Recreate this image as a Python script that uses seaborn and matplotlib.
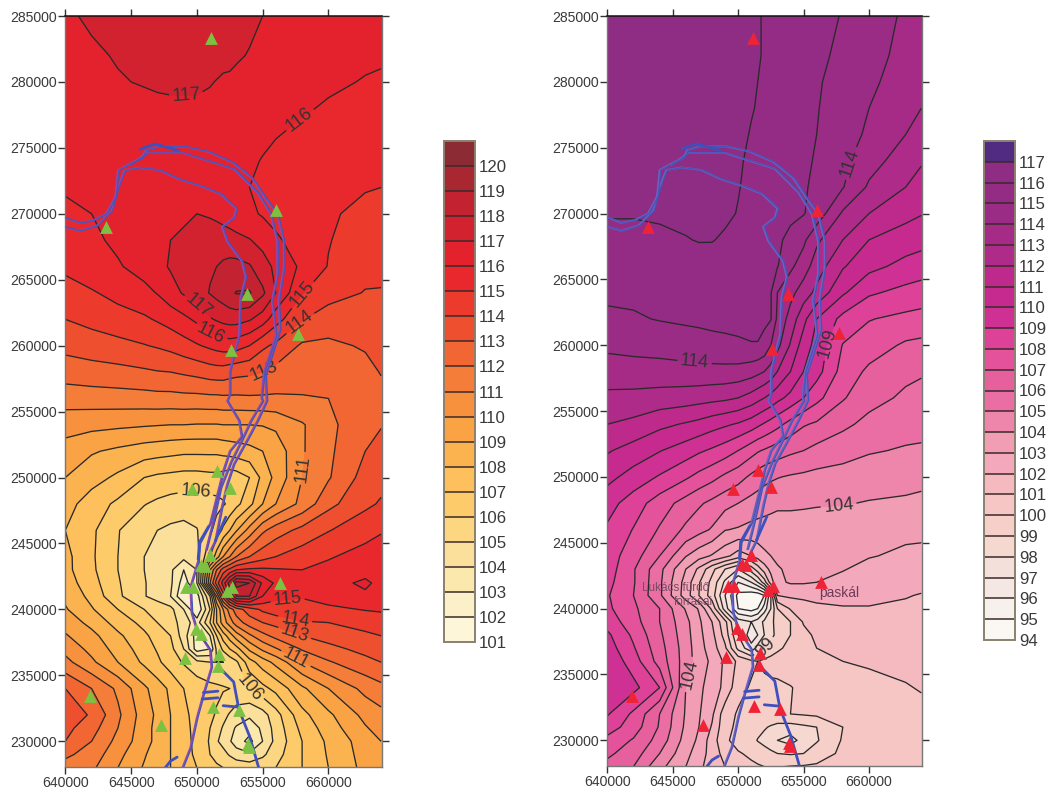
import numpy as np
import seaborn as sns
import matplotlib
matplotlib.use("Agg")
import matplotlib.pyplot as plt

# ---------------------- Grid ----------------------
x_nodes = [640000, 642000, 644000, 646000, 647000, 648000, 649000, 650000, 651000, 651500,
           652000, 652500, 653000, 654000, 655000, 656000, 658000, 660000, 662800, 664000]
y_nodes = [285000, 282000, 280000, 278000, 276000, 274000, 272000, 270000, 268000, 266000, 264000, 262000, 260000,
           258000, 256000, 254000, 252000, 250000, 248000, 246000, 244000, 243000, 242000,
           241000, 240000, 239000, 238000, 237000, 236000, 234000, 232000, 231000, 230000, 229000, 228000]

z_left = [
    [116.9,117.1,117.3,117.5,117.6,117.6,117.6,117.6,117.5,117.5,117.4,117.4,117.3,117.2,117.0,116.8,116.6,116.5,116.35,116.3],
    [116.7,116.9,117.05,117.25,117.3,117.35,117.4,117.4,117.35,117.3,117.2,117.15,117.1,116.95,116.8,116.7,116.5,116.35,116.15,116.1],
    [116.5,116.7,116.95,117.05,117.1,117.15,117.15,117.15,117.05,116.97,116.9,116.9,116.8,116.7,116.6,116.5,116.3,116.15,115.95,115.9],
    [116.35,116.5,116.7,116.8,116.85,116.85,116.85,116.85,116.8,116.75,116.7,116.65,116.6,116.5,116.35,116.25,116.1,115.9,115.65,115.6],
    [116.3,116.4,116.5,116.6,116.6,116.6,116.6,116.6,116.5,116.5,116.5,116.4,116.4,116.3,116.2,116.05,115.8,115.6,115.45,115.4],
    [116.25,116.3,116.4,116.5,116.5,116.5,116.5,116.5,116.4,116.4,116.4,116.3,116.3,116.15,115.95,115.75,115.5,115.4,115.25,115.2],
    [116.1,116.2,116.3,116.4,116.4,116.4,116.4,116.4,116.3,116.3,116.3,116.2,116.2,116.0,115.8,115.6,115.3,115.2,115.05,115.0],
    [115.8,116.0,116.15,116.3,116.4,116.6,116.8,117.0,116.9,116.8,116.7,116.5,116.3,116.2,115.9,115.6,115.3,115.1,114.8,114.7],
    [115.4,115.8,116.2,116.5,116.7,117.0,117.2,117.4,117.5,117.5,117.4,117.4,117.3,117.05,116.7,116.2,115.4,115.05,114.5,114.4],
    [115.2,115.6,115.9,116.4,116.7,117.1,117.4,117.6,117.9,118.0,118.2,118.3,118.3,118.1,117.4,116.8,115.8,114.95,114.3,114.2],
    [114.6,114.9,115.3,115.7,116.05,116.6,117.1,117.6,118.05,118.3,118.5,118.8,119.05,119.1,118.2,117.0,115.05,114.4,113.95,113.95],
    [114.0,114.3,114.6,114.85,115.1,115.4,115.75,116.2,116.9,117.1,117.3,117.4,117.4,117.1,116.5,115.4,114.05,113.5,113.6,113.65],
    [113.3,113.5,113.7,113.95,114.1,114.3,114.6,114.9,115.2,115.35,115.45,115.5,115.4,115.0,114.2,113.8,112.85,112.8,113.1,113.3],
    [112.45,112.6,112.7,112.85,112.95,113.0,113.15,113.3,113.5,113.55,113.55,113.4,113.3,113.2,113.0,112.7,112.3,112.2,112.7,113.05],
    [111.45,111.5,111.55,111.6,111.65,111.65,111.7,111.7,111.75,111.75,111.8,111.8,111.8,111.85,111.85,111.85,111.95,112.0,112.5,112.7],
    [110.4,110.3,110.2,110.1,110.05,110.0,110.0,109.95,109.95,109.95,110.0,110.0,110.0,110.0,110.05,110.2,110.9,111.75,112.7,112.95],
    [109.6,109.1,108.8,108.5,108.4,108.3,108.2,108.2,108.2,108.2,108.3,108.4,108.5,108.7,109.0,109.4,110.9,111.8,113.0,113.3],
    [109.0,108.4,107.8,107.0,106.8,106.7,106.6,106.6,106.7,106.7,106.6,106.4,106.5,107.0,108.3,109.3,111.0,111.9,113.4,113.7],
    [108.4,107.5,106.8,106.05,105.8,105.6,105.5,105.5,105.6,105.7,105.9,106.2,106.7,107.7,109.0,110.0,111.3,112.7,113.8,114.1],
    [108.0,107.2,106.05,105.3,105.0,104.8,104.7,104.95,105.8,106.4,107.2,108.0,108.9,110.4,111.8,112.5,113.3,113.95,114.6,114.9],
    [108.3,107.15,106.0,105.0,104.7,104.5,104.3,104.6,107.0,108.5,110.0,111.0,112.0,113.0,113.6,114.0,114.5,114.9,115.4,115.6],
    [108.3,107.2,106.0,105.0,104.7,104.2,103.0,104.0,110.0,112.0,113.5,114.3,115.0,115.2,115.2,115.1,115.0,115.3,115.6,115.5],
    [108.5,107.4,106.1,105.05,104.7,104.2,102.5,104.0,111.0,113.5,115.5,117.5,119.5,119.0,116.8,115.8,115.4,115.6,116.2,115.7],
    [108.8,107.7,106.2,105.05,104.7,104.0,102.0,102.5,106.0,110.0,113.5,116.0,118.0,118.0,116.0,115.2,115.05,115.4,115.8,115.6],
    [109.1,108.1,107.0,106.0,105.5,105.3,104.0,102.0,105.0,108.0,110.0,111.5,112.5,113.5,114.2,114.6,114.75,114.8,115.05,115.1],
    [109.6,108.7,107.6,106.7,106.0,105.5,104.5,103.5,106.0,108.0,109.5,110.5,111.5,112.5,113.0,113.3,113.9,114.0,114.4,114.6],
    [110.1,109.3,108.2,107.2,106.6,106.0,104.5,102.5,104.0,106.0,107.5,108.5,109.5,110.8,111.7,112.3,113.0,113.4,113.8,114.0],
    [110.7,109.7,108.6,107.5,106.9,106.3,105.0,102.5,103.0,105.2,106.2,107.0,107.6,109.2,110.2,110.9,112.1,112.7,113.3,113.5],
    [111.3,110.2,109.0,107.8,107.2,106.5,105.9,105.3,105.0,105.0,105.0,105.3,105.8,107.6,108.5,109.3,111.0,111.9,112.7,113.0],
    [113.0,112.0,110.8,109.2,108.5,107.8,107.0,106.6,106.3,106.2,106.1,106.0,105.85,106.0,106.7,107.3,108.8,110.0,111.3,111.7],
    [113.5,112.9,111.2,109.5,108.8,108.0,107.2,106.7,106.2,105.9,105.3,104.9,104.5,104.2,104.6,105.6,107.7,108.8,110.3,110.7],
    [113.3,112.4,111.0,109.4,108.7,108.0,107.3,106.7,106.0,105.4,104.9,104.3,103.9,103.4,104.2,105.4,107.3,108.5,109.9,110.4],
    [113.0,112.0,110.7,109.4,108.7,108.0,107.4,106.7,105.9,105.1,104.7,104.1,103.5,102.7,104.0,105.3,107.0,108.2,109.5,110.0],
    [112.2,111.6,110.3,109.1,108.5,108.0,107.4,106.8,106.0,105.6,105.3,104.9,104.5,104.2,104.8,105.6,107.0,108.1,109.4,109.9],
    [111.6,111.2,110.0,108.9,108.4,108.0,107.5,107.0,106.4,106.2,106.0,105.8,105.7,105.6,105.7,106.0,107.0,108.0,109.3,109.8],
]

z_right = [
    [116.5,116.5,116.5,116.5,116.5,116.5,116.4,116.3,116.15,116.05,115.95,115.85,115.75,115.6,115.45,115.3,114.95,114.5,113.85,113.6],
    [116.55,116.55,116.55,116.55,116.5,116.5,116.4,116.3,116.1,116.05,115.95,115.85,115.75,115.55,115.4,115.2,114.8,114.3,113.75,113.45],
    [116.6,116.6,116.6,116.6,116.5,116.5,116.4,116.3,116.1,116.0,115.9,115.8,115.7,115.5,115.3,115.1,114.65,114.15,113.65,113.35],
    [116.6,116.6,116.6,116.55,116.5,116.45,116.35,116.25,116.05,115.95,115.85,115.75,115.65,115.45,115.25,115.05,114.55,114.0,113.3,113.0],
    [116.6,116.6,116.6,116.5,116.5,116.4,116.3,116.2,115.95,115.85,115.75,115.65,115.55,115.35,115.15,115.0,114.4,113.85,113.0,112.6],
    [116.55,116.55,116.55,116.5,116.45,116.35,116.25,116.1,115.85,115.75,115.65,115.55,115.45,115.25,115.1,114.95,114.25,113.4,112.5,112.1],
    [116.5,116.5,116.5,116.5,116.4,116.3,116.2,116.05,115.75,115.7,115.6,115.5,115.4,115.2,115.05,114.9,114.05,112.85,112.0,111.6],
    [116.05,116.05,116.1,116.25,116.3,116.3,116.2,115.95,115.8,115.7,115.6,115.5,115.4,115.25,115.05,114.6,112.85,112.0,111.3,111.05],
    [115.8,115.8,115.85,115.95,116.05,116.05,115.85,115.7,115.55,115.5,115.4,115.3,115.2,114.7,114.2,113.2,112.0,111.0,110.5,110.35],
    [115.5,115.5,115.55,115.55,115.55,115.5,115.5,115.45,115.35,115.3,115.25,115.2,115.05,114.2,113.5,112.5,111.1,110.3,109.7,109.5],
    [115.2,115.2,115.25,115.3,115.3,115.3,115.3,115.3,115.25,115.2,115.15,115.05,114.0,113.3,112.5,111.75,110.15,109.15,108.7,108.55],
    [114.8,114.9,115.05,115.15,115.2,115.25,115.3,115.3,115.3,115.3,115.2,115.05,113.8,112.6,111.3,110.0,108.7,108.05,107.75,107.65],
    [114.2,114.3,114.4,114.55,114.6,114.7,114.75,114.85,114.95,114.95,114.7,114.0,113.3,111.9,110.5,109.65,107.95,107.5,106.85,106.75],
    [113.55,113.6,113.6,113.65,113.7,113.7,113.7,113.65,113.45,113.25,113.0,112.6,112.0,111.0,110.0,109.4,107.6,106.8,106.2,106.1],
    [112.75,112.7,112.6,112.5,112.4,112.3,112.2,112.0,111.6,111.3,111.0,110.7,110.3,109.7,109.0,108.3,107.1,106.3,105.85,105.7],
    [112.0,111.75,111.25,110.9,110.7,110.4,110.15,109.9,109.5,109.2,108.9,108.6,108.3,107.65,107.1,106.85,106.2,105.75,105.4,105.35],
    [111.1,110.6,110.05,109.5,109.15,108.85,108.5,108.0,107.4,107.1,106.9,106.7,106.5,106.2,106.0,105.7,105.45,105.1,104.9,104.85],
    [110.3,109.6,108.9,108.15,107.7,107.3,106.8,106.4,105.8,105.55,105.3,105.15,105.05,104.9,104.8,104.7,104.55,104.4,104.35,104.3],
    [109.4,108.5,107.5,106.6,106.15,105.75,105.35,105.0,104.65,104.5,104.4,104.3,104.2,104.2,104.15,104.1,104.05,103.95,103.85,103.75],
    [108.85,107.95,106.9,105.8,105.35,104.9,104.05,103.9,103.7,103.65,103.6,103.55,103.5,103.5,103.5,103.45,103.35,103.25,103.2,103.25],
    [108.5,107.45,106.0,104.05,103.4,102.9,102.3,101.5,102.0,102.4,102.8,103.0,103.2,103.35,103.35,103.3,103.2,103.05,102.85,102.75],
    [108.5,107.1,105.3,103.0,101.8,100.3,99.0,98.0,99.5,100.5,101.5,102.3,102.9,103.2,103.2,103.25,103.05,102.75,102.5,102.45],
    [108.3,107.1,105.2,102.6,101.1,99.7,97.8,96.0,97.0,98.0,99.5,101.5,102.8,103.1,103.1,103.0,102.75,102.5,102.3,102.25],
    [108.1,107.0,105.2,102.5,101.0,99.5,97.0,94.7,94.3,94.3,95.0,98.0,102.0,102.2,102.2,102.2,102.2,102.2,102.05,101.95],
    [108.2,107.2,106.0,103.9,102.9,100.8,97.5,95.0,94.6,95.0,96.5,98.0,100.0,101.1,101.6,101.85,101.95,101.95,101.85,101.8],
    [108.6,107.4,106.0,104.3,103.2,102.0,100.3,97.5,97.0,97.5,98.2,98.8,99.3,100.0,101.1,101.45,101.7,101.75,101.7,101.65],
    [109.2,107.8,106.2,104.4,103.3,102.3,100.6,98.0,96.5,97.0,98.0,98.7,99.3,100.0,100.7,101.2,101.5,101.55,101.5,101.45],
    [109.5,108.1,106.4,104.5,103.4,102.5,101.2,98.7,97.3,98.4,99.0,99.4,99.8,100.3,100.8,101.0,101.3,101.4,101.4,101.35],
    [109.8,108.5,106.6,104.5,103.5,102.8,101.8,100.8,100.2,100.0,100.2,100.4,100.5,100.6,100.7,100.75,101.0,101.1,101.2,101.25],
    [109.9,109.3,108.0,104.0,103.3,102.4,101.8,100.3,99.9,99.8,99.75,99.75,99.75,99.95,100.25,100.4,100.6,100.75,100.95,101.05],
    [109.1,107.8,106.0,103.9,103.1,102.2,100.4,99.9,99.7,99.65,99.65,99.7,99.75,100.0,100.1,100.2,100.4,100.55,100.7,100.8],
    [108.5,107.5,105.9,103.8,103.0,101.9,100.3,99.8,99.5,99.3,99.1,98.9,98.7,98.6,98.8,99.0,100.0,100.4,100.6,100.7],
    [107.7,106.9,105.6,103.6,102.8,101.5,100.2,99.6,99.3,98.95,98.7,98.4,98.0,97.6,98.4,98.9,100.1,100.3,100.5,100.6],
    [107.2,106.5,105.0,103.3,102.5,101.6,100.6,100.1,99.8,99.6,99.4,99.2,99.0,98.9,99.0,99.5,100.2,100.3,100.45,100.5],
    [106.7,106.0,104.3,103.0,102.2,101.6,101.0,100.5,100.2,100.1,100.0,99.9,99.95,100.05,100.1,100.15,100.25,100.3,100.4,100.4],
]

# contour levels and band colours, lowest band first
levels_left = list(range(101, 122))
levels_right = list(range(94, 119))
colors_left = ["#fdf6d8", "#fbf0c8", "#fbe8ad", "#fbe09b", "#fcd680", "#fdcb69", "#fdc05c", "#fbb350",
               "#f9a344", "#f7913e", "#f47e39", "#f26633", "#ee502f", "#ec3a2d", "#e8282d", "#e3222d",
               "#d2222f", "#c32330", "#a92730", "#8c2b34"]
colors_right = ["#fbf7f3", "#f7f0ec", "#f5e8e4", "#f4e0da", "#f5d8d0", "#f6d0c8", "#f6c6c4", "#f5bac0",
                "#f3a9bb", "#f19db4", "#ee86ab", "#ea6ea3", "#e6609e", "#e3529b", "#de4198", "#cf3093",
                "#c62a8e", "#bd2a8c", "#af2b8a", "#a52b87", "#9a2c86", "#942c85", "#8f2c84", "#512a82"]

# stations
station_x = [651100, 643100, 656000, 653800, 657700, 652600, 651500, 649600, 652500, 651000, 650600,
             650300, 649200, 649700, 652700, 652300, 656300, 649900, 650300, 651700, 651600, 649100,
             641900, 647300, 651200, 653200, 654000, 653900]
station_y = [283300, 269000, 270300, 263900, 260900, 259700, 250500, 249100, 249200, 244100, 243300,
             243400, 241700, 241700, 241700, 241400, 242000, 238500, 238100, 236600, 235700, 236300,
             233400, 231200, 232600, 232400, 229600, 229800]

# river banks
bank_west_x = [640000, 641100, 642400, 643500, 644000, 644500, 645700, 647200, 648700, 650300, 651800, 653000,
               652800, 651900, 652300, 653400, 653700, 653300, 653200, 652800, 652500, 652500, 652300, 653200,
               653400, 652500, 652000, 651500, 651000, 650200, 650100, 649500, 649600, 650000, 651000, 651100,
               650500, 650000, 649500, 648900]
bank_west_y = [269000, 268700, 269100, 270200, 272000, 273300, 273500, 273300, 272600, 272100, 271500, 270400,
               269700, 269000, 267900, 266400, 265200, 263600, 260800, 259300, 258000, 256300, 255800, 254300,
               253100, 252000, 250500, 248500, 246500, 245000, 243700, 241700, 239700, 238400, 236900, 235600,
               233600, 231800, 229500, 228000]
bank_east_x = [640000, 641100, 642100, 643100, 643800, 644000, 644900, 645800, 646100, 647100, 649100, 650900,
               652700, 654200, 655200, 656100, 656600, 656600, 656200, 656300, 655700, 655200, 655300, 654600,
               653800, 652800, 652300, 651900, 651400, 650900]
bank_east_y = [269700, 269300, 269500, 270000, 271300, 273300, 273800, 274200, 274800, 275100, 275100, 274700,
               273900, 272700, 271200, 270000, 267900, 265900, 263400, 261200, 259300, 257800, 255800, 254300,
               252800, 251000, 249500, 247800, 245200, 244200]
bank_mid_x = [644900, 646200, 649000, 652800, 654600, 655600, 656100, 656100, 655700, 656000, 655100, 654900,
              655000, 654100, 653400, 652600, 651800, 651200, 650700]
bank_mid_y = [273700, 274600, 274600, 273400, 271600, 270000, 267900, 265400, 263400, 260800, 258000, 256000,
              255800, 254300, 252800, 251200, 249200, 246500, 244500]
south_x = [651600, 652800, 653200, 654000, 654700]
south_y = [235700, 234500, 232400, 230400, 228000]
stub1_x = [650500, 651600]
stub1_y = [233700, 233800]
stub2_x = [650400, 651600]
stub2_y = [233200, 233300]
stub3_x = [652000, 653100]
stub3_y = [232700, 232600]
stub4_x = [647600, 648000, 648500]
stub4_y = [228000, 228500, 228800]
stub5_x = [650100, 650200, 650900]
stub5_y = [243800, 245100, 246300]
stub6_x = [651400, 652200]
stub6_y = [245200, 247000]
stub7_x = [645700, 646800, 648600]
stub7_y = [274900, 275300, 274800]
river_thin = [(bank_west_x, bank_west_y), (bank_east_x, bank_east_y), (bank_mid_x, bank_mid_y)]
river_thick = [(south_x, south_y), (stub1_x, stub1_y), (stub2_x, stub2_y), (stub3_x, stub3_y),
               (stub4_x, stub4_y), (stub5_x, stub5_y), (stub6_x, stub6_y), (stub7_x, stub7_y)]

# contour labels
label_pos_left = [(649200, 279700), (657700, 277300), (650100, 263000), (651100, 261000), (658000, 263900),
                  (657700, 261900), (655000, 258300), (658000, 250700), (649900, 248500), (656900, 240800),
                  (657500, 239400), (657500, 238400), (657600, 236400), (653900, 234000)]
label_pos_right = [(658700, 273800), (646700, 259000), (657000, 260100), (657700, 247600), (646250, 235000),
                   (652000, 237100)]

xticks = [640000, 645000, 650000, 655000, 660000]
yticks = [230000, 235000, 240000, 245000, 250000, 255000, 260000, 265000, 270000, 275000, 280000, 285000]

# ---------------------- Style ----------------------
sns.set_theme(style="ticks")
plt.rcParams["font.family"] = ["Liberation Sans", "DejaVu Sans"]
plt.rcParams["text.color"] = "#3a3a3a"
plt.rcParams["xtick.color"] = "#3a3a3a"
plt.rcParams["ytick.color"] = "#3a3a3a"

W, H = 1049, 791


def box(x0, y0, x1, y1):
    # pixel box -> figure fractions
    return [x0 / W, 1 - y1 / H, (x1 - x0) / W, (y1 - y0) / H]


def draw_map(ax, z, levels, colors, label_pos, tri_color, river_under):
    x = np.array(x_nodes)
    y = np.array(y_nodes)[::-1]
    zz = np.array(z)[::-1]
    cf = ax.contourf(x, y, zz, levels=levels, colors=sns.color_palette(colors), extend="neither")
    cs = ax.contour(x, y, zz, levels=levels, colors="#2a2a2a", linewidths=0.95)
    ax.clabel(cs, manual=label_pos, fmt="%d", fontsize=13, colors="#333333", inline=True, inline_spacing=3)

    for rx, ry in river_thin:
        sns.lineplot(x=rx, y=ry, ax=ax, sort=False, estimator=None, color=river_under, linewidth=1.4, zorder=4)
        sns.lineplot(x=np.array(rx) + 90, y=ry, ax=ax, sort=False, estimator=None, color="#4653b8", linewidth=0.9, zorder=5)
    for rx, ry in river_thick:
        sns.lineplot(x=rx, y=ry, ax=ax, sort=False, estimator=None, color="#3f50bd", linewidth=2.0, zorder=5)

    sns.scatterplot(x=station_x, y=station_y, ax=ax, marker="^", s=85, color=tri_color, linewidth=0, zorder=6)

    ax.set_xlim(640000, 664050)
    ax.set_ylim(228050, 285000)
    ax.set_xticks(xticks)
    ax.set_yticks(yticks)
    ax.set_xticklabels([str(v) for v in xticks])
    ax.set_yticklabels([str(v) for v in yticks])
    ax.tick_params(axis="both", labelsize=10.1, length=4.8, width=1, color="#333333", pad=1.5,
                   top=True, right=True, direction="out")
    for side in ["left", "right", "bottom"]:
        ax.spines[side].set_color("#777777")
        ax.spines[side].set_linewidth(1.0)
    ax.spines["top"].set_color("#111111")
    ax.spines["top"].set_linewidth(1.1)
    return cf


def draw_bar(cax, cf, levels, tick_levels):
    cb = plt.colorbar(cf, cax=cax, ticks=tick_levels, drawedges=True)
    cb.dividers.set_color("#3a2a2a")
    cb.dividers.set_linewidth(1.1)
    cb.outline.set_edgecolor("#8a8070")
    cb.outline.set_linewidth(1.4)
    cb.ax.set_yticklabels([str(v) for v in tick_levels])
    cb.ax.tick_params(labelsize=12.1, length=0, pad=3, colors="#3a3a3a")


# ---------------------- Figure ----------------------
fig = plt.figure(figsize=(W / 100, H / 100), dpi=100, facecolor="white")

ax_left = fig.add_axes(box(65.3, 16, 381.7, 767))
cf_left = draw_map(ax_left, z_left, levels_left, colors_left, label_pos_left, "#7cc142", "#8d4bb0")

ax_right = fig.add_axes(box(607.3, 16, 922, 766))
cf_right = draw_map(ax_right, z_right, levels_right, colors_right, label_pos_right, "#ee2436", "#6a63c0")
ax_right.text(645200, 241550, "Lukács fürdő", fontsize=8.5, color="#7d4a66", ha="center", va="center", zorder=7)
ax_right.text(646600, 240500, "forrásai", fontsize=8.5, color="#7d4a66", ha="center", va="center", zorder=7)
ax_right.text(657700, 241200, "paskál", fontsize=10, color="#6d3a56", ha="center", va="center", zorder=7)

cax_left = fig.add_axes(box(444, 141, 474.7, 642))
draw_bar(cax_left, cf_left, levels_left, levels_left[:-1])

cax_right = fig.add_axes(box(983.5, 141, 1015, 640))
draw_bar(cax_right, cf_right, levels_right, levels_right[:-1])

fig.savefig("out.png", dpi=100)
